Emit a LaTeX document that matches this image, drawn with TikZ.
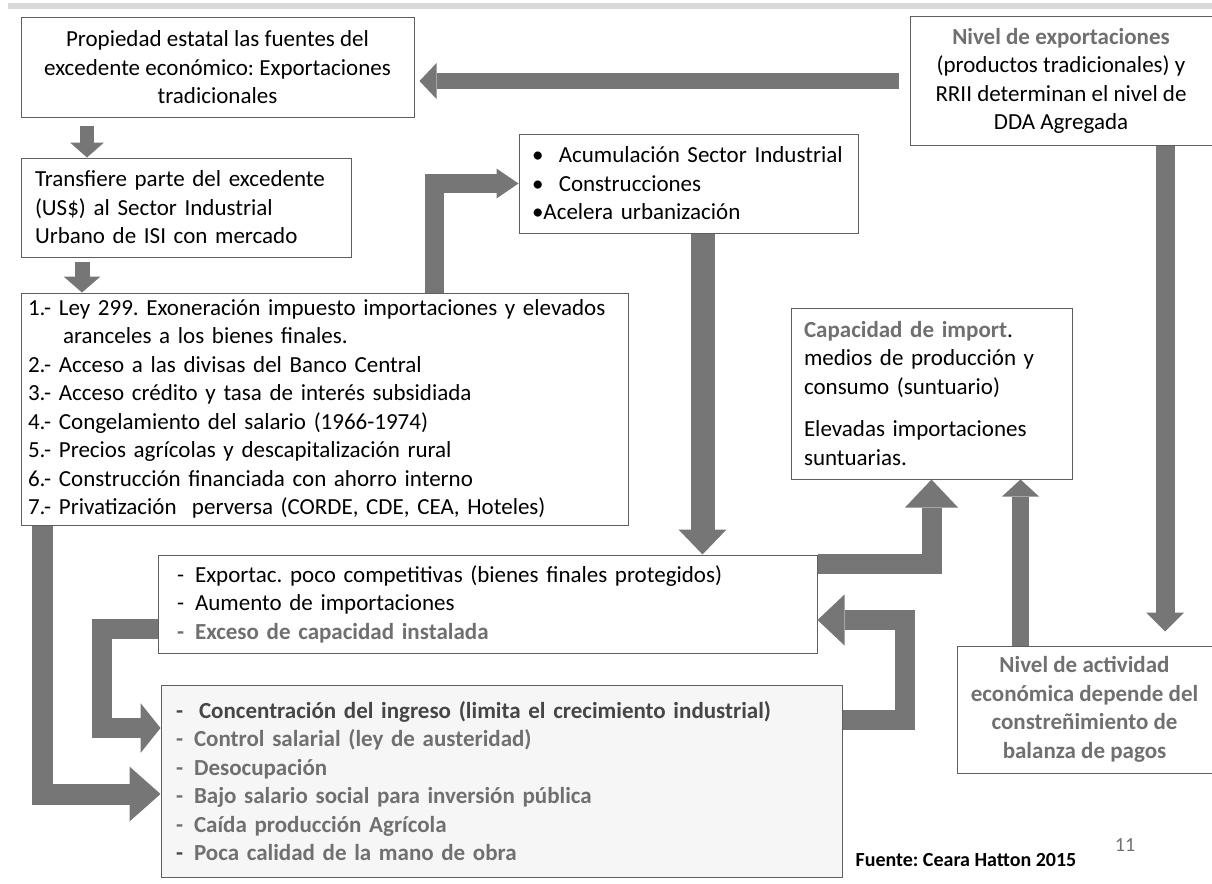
\documentclass[tikz,border=0pt]{standalone}
\usepackage{fontspec}
\setmainfont{Carlito}
\usetikzlibrary{arrows.meta}
\definecolor{boxline}{RGB}{95,95,95}
\definecolor{arrowgrey}{RGB}{118,118,118}
\definecolor{textgrey}{RGB}{112,112,112}
\definecolor{textdark}{RGB}{70,70,70}
\definecolor{shade}{RGB}{246,246,246}
\definecolor{topbar}{RGB}{218,218,218}
\tikzstyle{box}=[draw=boxline, line width=1pt, fill=white, inner ysep=3pt]
\tikzset{leftbox/.style={box, align=left}}
\tikzset{flow/.style args={#1,#2,#3}{draw=arrowgrey, line width=#1,
    -{Triangle[width=#2,length=#3,line width=0pt,fill=arrowgrey]}}}
\newcommand{\lineDash}{-\hspace{11pt}}
\frenchspacing

\begin{document}
\begin{tikzpicture}[x=1pt,y=-1pt,font=\fontsize{23}{28.5}\selectfont]
  \useasboundingbox (0,0) rectangle (1212,883);
  \fill[topbar] (8,3) rectangle (1212,9);

  %% Boxes
  \draw (217.5,67.5) node[box,align=center,minimum width=393pt,minimum height=99pt] (Prop)
    {Propiedad estatal las fuentes del\\excedente económico: Exportaciones\\tradicionales};
  \draw (1061,81) node[box,align=center,minimum width=302pt,minimum height=128pt] (Niv)
    {{\color{textgrey}\bfseries Nivel de exportaciones}\\(productos tradicionales) y\\RRII determinan el nivel de\\DDA Agregada};
  \draw (186,207.5) node[leftbox,text width=302pt,inner xsep=14pt,minimum height=99pt] (Transf)
    {Transfiere parte del excedente\\(US\$) al Sector Industrial\\Urbano de ISI con mercado};
  \draw (324.5,409) node[leftbox,text width=593pt,inner xsep=7pt,minimum height=232pt] (Ley)
    {1.- Ley 299. Exoneración impuesto importaciones y elevados\\
     \hspace*{35pt}aranceles a los bienes finales.\\
     2.- Acceso a las divisas del Banco Central\\
     3.- Acceso crédito y tasa de interés subsidiada\\
     4.- Congelamiento del salario (1966-1974)\\
     5.- Precios agrícolas y descapitalización rural\\
     6.- Construcción financiada con ahorro interno\\
     7.- Privatización\ \ perversa (CORDE, CDE, CEA, Hoteles)};
  \draw (688.5,183.5) node[leftbox,text width=313pt,inner xsep=13pt,minimum height=99pt] (Acum)
    {•\ \ Acumulación Sector Industrial\\•\ \ Construcciones\\•Acelera urbanización};
  \draw (931.5,393.5) node[leftbox,text width=255pt,inner xsep=13pt,minimum height=171pt] (Cap)
    {{\color{textgrey}\bfseries Capacidad de import}.\\medios de producción y\\consumo (suntuario)\\[14pt]Elevadas importaciones\\suntuarias.};
  \draw (1084.5,709.5) node[box,align=center,text=textgrey,font=\fontsize{23}{28.5}\selectfont\bfseries,
    minimum width=255pt,minimum height=127pt] (Act)
    {Nivel de actividad\\económica depende del\\constreñimiento de\\balanza de pagos};
  \draw (487.5,604) node[leftbox,text width=621pt,inner xsep=19pt,minimum height=98pt] (Exp)
    {\lineDash Exportac. poco competitivas (bienes finales protegidos)\\
     \lineDash Aumento de importaciones\\
     {\color{textgrey}\bfseries\lineDash Exceso de capacidad instalada}};
  \draw (501.5,781) node[leftbox,fill=shade,text width=651pt,inner xsep=15pt,minimum height=192pt,
    text=textgrey,font=\fontsize{23}{28.5}\selectfont\bfseries] (Conc)
    {{\color{textdark}-\hspace{16pt}Concentración del ingreso (limita el crecimiento industrial)}\\
     \lineDash Control salarial (ley de austeridad)\\
     \lineDash Desocupación\\
     \lineDash Bajo salario social para inversión pública\\
     \lineDash Caída producción Agrícola\\
     {\color{textdark}-}\hspace{11pt}Poca calidad de la mano de obra};

  %% Block arrows
  \draw[flow={16pt,36pt,17pt},shorten <=11pt,shorten >=5pt] (Niv.west) -- (Niv.west -| Prop.east);
  \draw[flow={14pt,34pt,15pt},shorten <=8pt] ([xshift=-130.5pt]Prop.south) -- ([xshift=-130.5pt]Prop.south |- Transf.north);
  \draw[flow={15pt,37pt,16pt},shorten <=4pt] ([xshift=-104pt]Transf.south) -- ([xshift=-104pt]Transf.south |- Ley.north);
  \draw[flow={19pt,30pt,22pt}] ([xshift=110pt]Ley.north) |- (Acum.west);
  \draw[flow={24pt,48pt,25pt}] ([xshift=14pt]Acum.south) -- ([xshift=14pt]Acum.south |- Exp.north);
  \draw[flow={20pt,53pt,28pt}] ([yshift=40pt]Exp.east) -| (Cap.south);
  \draw[flow={17pt,37pt,17pt}] ([xshift=-64pt]Act.north) -- ([xshift=-64pt]Act.north |- Cap.south);
  \draw[flow={19pt,38pt,19pt},shorten >=14pt] ([xshift=104pt]Niv.south) -- ([xshift=104pt]Niv.south |- Act.north);
  \draw[flow={20pt,50pt,20pt}] ([yshift=-25pt]Exp.west) -- ++(-56pt,0) |- ([yshift=53pt]Conc.west);
  \draw[flow={21pt,55pt,31pt}] ([xshift=-282pt]Ley.south) |- ([yshift=-13pt]Conc.west);
  \draw[flow={20pt,51pt,27pt}] ([yshift=61pt]Conc.east) -- ++(62pt,0) |- ([yshift=-16pt]Exp.east);

  %% Source and page
  \draw (966,860) node[font=\fontsize{20}{22}\selectfont\bfseries] (Src) {Fuente: Ceara Hatton 2015};
  \draw (1125,845) node[text=textgrey,font=\fontsize{20}{22}\selectfont] (Pag) {11};
\end{tikzpicture}
\end{document}
